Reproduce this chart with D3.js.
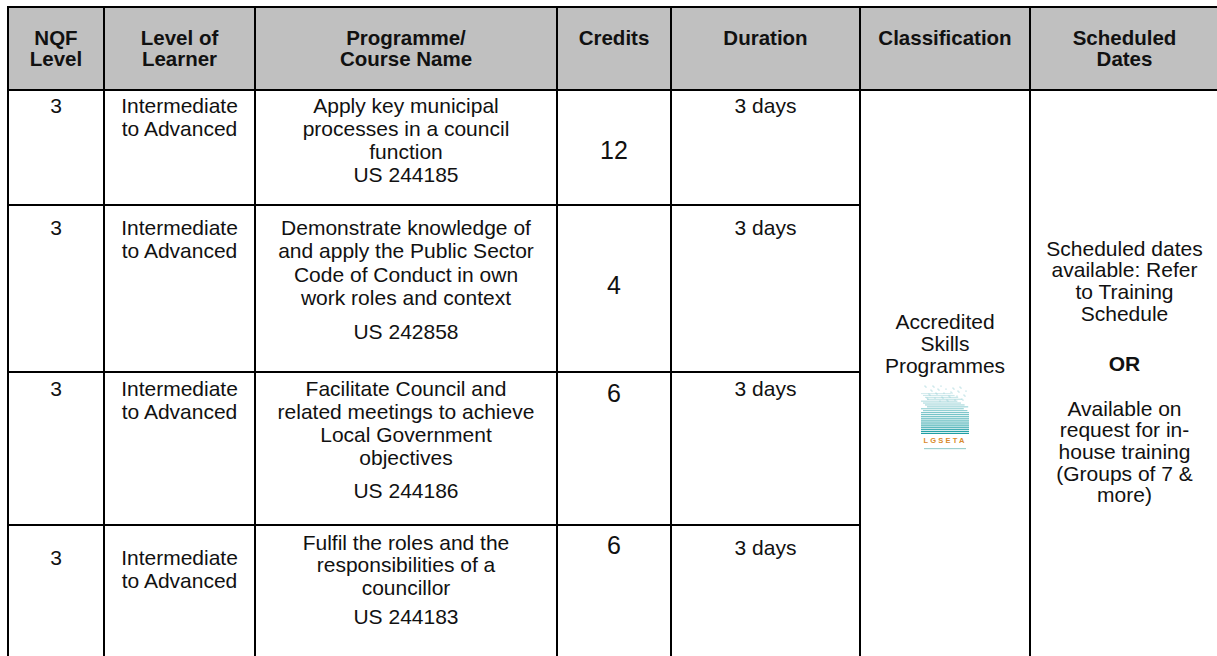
<!DOCTYPE html>
<html><head><meta charset="utf-8">
<script src="https://cdn.jsdelivr.net/npm/d3@7"></script>
<style>html,body{margin:0;padding:0;background:#fff}</style>
</head><body>
<svg id="c" width="1217" height="656"></svg>
<script>
// ---------- DATA ----------
const headers = [["NQF","Level"],["Level of","Learner"],["Programme/","Course Name"],["Credits"],["Duration"],["Classification"],["Scheduled","Dates"]];
const nqfLevels = ["3","3","3","3"];
const learnerLevels = [["Intermediate","to Advanced"],["Intermediate","to Advanced"],["Intermediate","to Advanced"],["Intermediate","to Advanced"]];
const courseNames = [
  ["Apply key municipal","processes in a council","function"],
  ["Demonstrate knowledge of","and apply the Public Sector","Code of Conduct in own","work roles and context"],
  ["Facilitate Council and","related meetings to achieve","Local Government","objectives"],
  ["Fulfil the roles and the","responsibilities of a","councillor"]
];
const unitStandards = ["US 244185","US 242858","US 244186","US 244183"];
const credits = ["12","4","6","6"];
const durations = ["3 days","3 days","3 days","3 days"];
const classification = ["Accredited","Skills","Programmes"];
const logoLabel = "LGSETA";
const scheduledA = ["Scheduled dates","available: Refer","to Training","Schedule"];
const scheduledOr = "OR";
const scheduledB = ["Available on","request for in-","house training","(Groups of 7 &","more)"];

// ---------- LAYOUT ----------
const colEdges = [8,104,255,557,671,860,1030,1219];
const rowEdges = [7,90,205,372,525,656];
const FS = 21, HFS = 20.5;
const rowLH = [23,23.5,23,22.5];
const courseTop = [105,227,388,542];
const usGap = [0,10,10,7];
const creditY = [150,285,393,545];
const textTop = [105,227,388,557];
const durTop = [105,227,388,547];

const svg = d3.select("#c");
const x = d3.scaleOrdinal().domain(d3.range(colEdges.length)).range(colEdges);
const y = d3.scaleOrdinal().domain(d3.range(rowEdges.length)).range(rowEdges);
const cx = i => (x(i) + x(i+1)) / 2;
const font = "Arial, 'Liberation Sans', Helvetica, sans-serif";

svg.append("rect").attr("x", x(0)).attr("y", y(0))
  .attr("width", x(7) - x(0)).attr("height", y(1) - y(0)).attr("fill", "#c0c0c0");

function lines(arr, xc, y0, opts = {}) {
  const g = svg.append("g");
  g.selectAll("text").data(arr).join("text")
    .attr("x", xc).attr("y", (d, i) => y0 + i * (opts.lh || 23))
    .attr("text-anchor", "middle").attr("dominant-baseline", "central")
    .attr("font-family", font).attr("font-size", opts.fs || FS)
    .attr("font-weight", opts.bold ? "bold" : "normal")
    .attr("fill", "#111").text(d => d);
  return g;
}

headers.forEach((h, i) => lines(h, cx(i), 37, {bold: true, fs: HFS, lh: 21.7}));

nqfLevels.forEach((v, r) => {
  const lh = rowLH[r];
  lines([v], cx(0), textTop[r]);
  lines(learnerLevels[r], cx(1), textTop[r], {lh: 23});
  lines(courseNames[r], cx(2), courseTop[r], {lh});
  lines([unitStandards[r]], cx(2), courseTop[r] + courseNames[r].length * lh + usGap[r]);
  lines([credits[r]], cx(3), creditY[r], {fs: 25});
  lines([durations[r]], cx(4), durTop[r]);
});

lines(classification, cx(5), 321, {lh: 22});

// logo (decorative)
const lg = svg.append("g").attr("transform", `translate(${cx(5) - 24},385)`);
lg.selectAll("rect.s").data(d3.range(22)).join("rect").attr("class", "s")
  .attr("x", d => d < 10 ? (d % 4) * 2 : 0).attr("y", d => 8 + d * 1.9)
  .attr("width", d => d < 10 ? 30 + d * 1.6 : 48).attr("height", 1.1)
  .attr("fill", d => d3.interpolateRgb("#d6ecee", "#1f9fa5")(d / 21));
lg.selectAll("circle").data(d3.range(40)).join("circle")
  .attr("cx", d => 4 + (d * 11) % 42).attr("cy", d => 1 + (d * 7) % 16).attr("r", 0.6)
  .attr("fill", "#8ccbd0");
lg.append("text").attr("x", 24).attr("y", 58).attr("text-anchor", "middle")
  .attr("font-family", font).attr("font-size", 7.5).attr("font-weight", "bold")
  .attr("letter-spacing", 2.2).attr("fill", "#d98a2b").text(logoLabel);
lg.append("rect").attr("x", 3).attr("y", 63).attr("width", 42).attr("height", 1.2).attr("fill", "#9fd0cf");

lines(scheduledA, cx(6), 248, {lh: 21.7});
lines([scheduledOr], cx(6), 363, {bold: true});
lines(scheduledB, cx(6), 408, {lh: 21.7});

const hl = [
  {r: 0, c0: 0, c1: 7}, {r: 1, c0: 0, c1: 7},
  {r: 2, c0: 0, c1: 5}, {r: 3, c0: 0, c1: 5}, {r: 4, c0: 0, c1: 5}
];
svg.selectAll("line.h").data(hl).join("line").attr("class", "h")
  .attr("x1", d => x(d.c0) - 1).attr("x2", d => x(d.c1) + 1)
  .attr("y1", d => y(d.r)).attr("y2", d => y(d.r))
  .attr("stroke", "#000").attr("stroke-width", 2);
svg.selectAll("line.v").data(d3.range(colEdges.length)).join("line").attr("class", "v")
  .attr("x1", d => x(d)).attr("x2", d => x(d))
  .attr("y1", y(0)).attr("y2", y(5) + 10)
  .attr("stroke", "#000").attr("stroke-width", 2);
</script></body></html>
